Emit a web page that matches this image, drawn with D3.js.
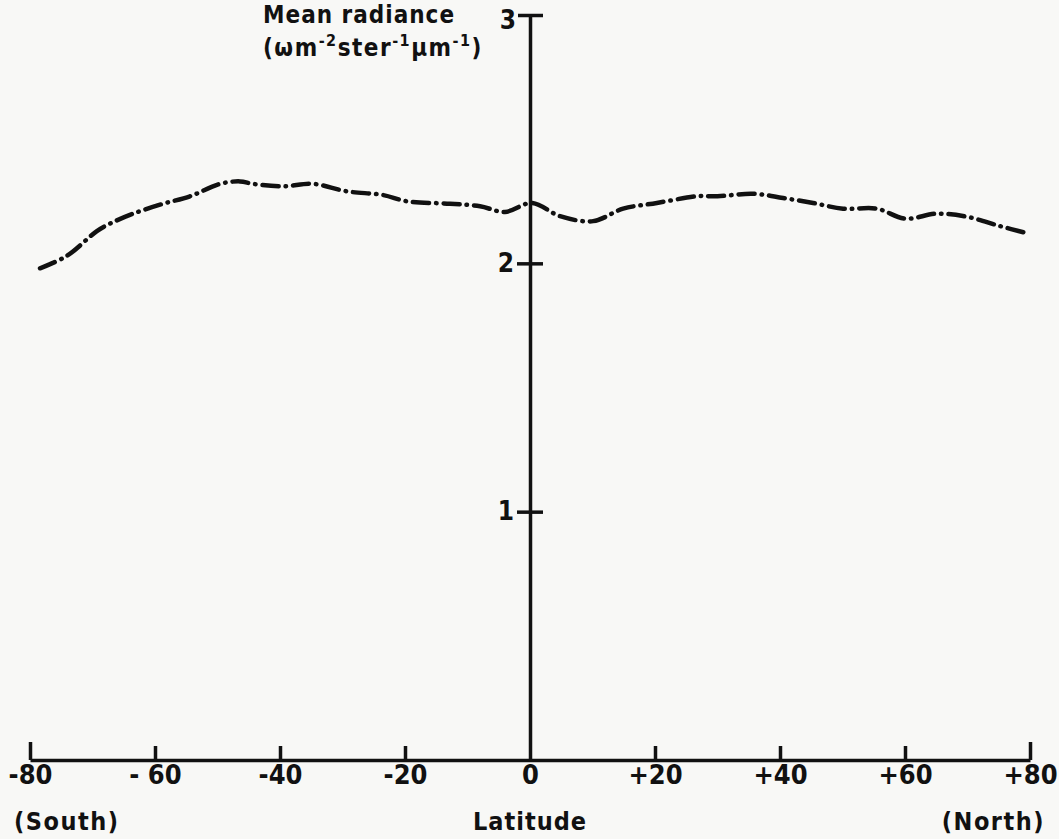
<!DOCTYPE html>
<html>
<head>
<meta charset="utf-8">
<script src="https://cdn.jsdelivr.net/npm/d3@7"></script>
<style>
  body { margin: 0; background: #f8f8f6; }
  svg { display: block; }
  text { font-family: "DejaVu Sans Condensed", "DejaVu Sans", sans-serif; font-weight: bold; fill: #111; }
</style>
</head>
<body>
<div id="chart"></div>
<script>
// Mean radiance against latitude
const latitude = [-78.4, -74.1, -69.3, -67.2, -63.5, -58.7, -54.4, -49.6, -46.4, -44.3, -39.5, -34.7,
    -29.3, -23.5, -19.7, -12.8, -8, -4, 0.3, 4.8, 10.1, 14.9, 20.3, 26.7, 30, 35.7, 40.5, 45.3,
    50.1, 55.5, 60, 65.1, 70, 75.2, 79.7];
const radiance = [1.98, 2.03, 2.13, 2.16, 2.20, 2.24, 2.27, 2.32, 2.33, 2.32, 2.31, 2.32,
    2.29, 2.275, 2.25, 2.24, 2.23, 2.207, 2.243, 2.19, 2.17, 2.22, 2.243, 2.27, 2.27, 2.28, 2.263, 2.243,
    2.22, 2.22, 2.18, 2.20, 2.187, 2.15, 2.12];

const xTicks = [-80, -60, -40, -20, 0, 20, 40, 60, 80];
const xTickLabels = ["-80", "- 60", "-40", "-20", "0", "+20", "+40", "+60", "+80"];
const yTicks = [1, 2, 3];

const width = 1059, height = 839;

const svg = d3.select("#chart").append("svg")
    .attr("width", width)
    .attr("height", height);

const x = d3.scaleLinear().domain([-80, 80]).range([30, 1030]);
const y = d3.scaleLinear().domain([0, 3]).range([760, 15]);

// x axis, ticks point up, labels below
const xAxis = svg.append("g")
    .attr("transform", `translate(0,${y(0)})`)
    .call(d3.axisBottom(x).tickValues(xTicks).tickSize(-14).tickSizeOuter(0).tickPadding(5)
        .tickFormat((d, i) => xTickLabels[i]));
xAxis.select(".domain").attr("stroke", "#111").attr("stroke-width", 3.5);
xAxis.selectAll(".tick line").attr("stroke", "#111").attr("stroke-width", 3.5);
xAxis.selectAll(".tick").filter(d => d === -80 || d === 80).select("line").attr("y2", -18);
xAxis.selectAll(".tick").filter(d => d === 0).select("line").remove();
xAxis.selectAll(".tick text").style("font-size", "27px").attr("fill", "#111");

// y axis sits on latitude 0, ticks cross it
const yAxis = svg.append("g")
    .attr("transform", `translate(${x(0)},0)`)
    .call(d3.axisLeft(y).tickValues(yTicks).tickSize(13).tickSizeOuter(0).tickPadding(3)
        .tickFormat(d3.format("d")));
yAxis.select(".domain").attr("stroke", "#111").attr("stroke-width", 3.5);
yAxis.selectAll(".tick line").attr("stroke", "#111").attr("stroke-width", 3.5).attr("x2", 13).attr("x1", -13);
yAxis.selectAll(".tick").filter(d => d === 3).select("line").attr("x1", -12);
yAxis.selectAll(".tick").filter(d => d === 3).select("text").attr("dy", "0.5em").attr("x", -14);
yAxis.selectAll(".tick text").style("font-size", "26px").attr("fill", "#111");

// dash-dot curve
const line = d3.line()
    .x((d, i) => x(latitude[i]))
    .y(d => y(d))
    .curve(d3.curveCatmullRom);

svg.append("path")
    .datum(radiance)
    .attr("d", line)
    .attr("fill", "none")
    .attr("stroke", "#111")
    .attr("stroke-width", 4.5)
    .attr("stroke-linecap", "round")
    .attr("stroke-dasharray", "16 7 0.5 7");

// axis titles
svg.append("text").attr("x", 263).attr("y", 23).style("font-size", "24px")
    .attr("letter-spacing", "1px").text("Mean radiance");

const unit = svg.append("text").attr("x", 263).attr("y", 56).style("font-size", "24px")
    .attr("letter-spacing", "1.5px");
unit.append("tspan").text("(ωm");
unit.append("tspan").attr("dy", -10).style("font-size", "16px").text("-2");
unit.append("tspan").attr("dy", 10).text("ster");
unit.append("tspan").attr("dy", -10).style("font-size", "16px").text("-1");
unit.append("tspan").attr("dy", 10).text("μm");
unit.append("tspan").attr("dy", -10).style("font-size", "16px").text("-1");
unit.append("tspan").attr("dy", 10).text(")");

svg.append("text").attr("x", 14).attr("y", 830).style("font-size", "25px")
    .attr("letter-spacing", "1.5px").text("(South)");
svg.append("text").attr("x", x(0)).attr("y", 830).attr("text-anchor", "middle")
    .style("font-size", "25px").attr("letter-spacing", "1px").text("Latitude");
svg.append("text").attr("x", 1045).attr("y", 830).attr("text-anchor", "end")
    .style("font-size", "25px").attr("letter-spacing", "1.5px").text("(North)");
</script>
</body>
</html>
